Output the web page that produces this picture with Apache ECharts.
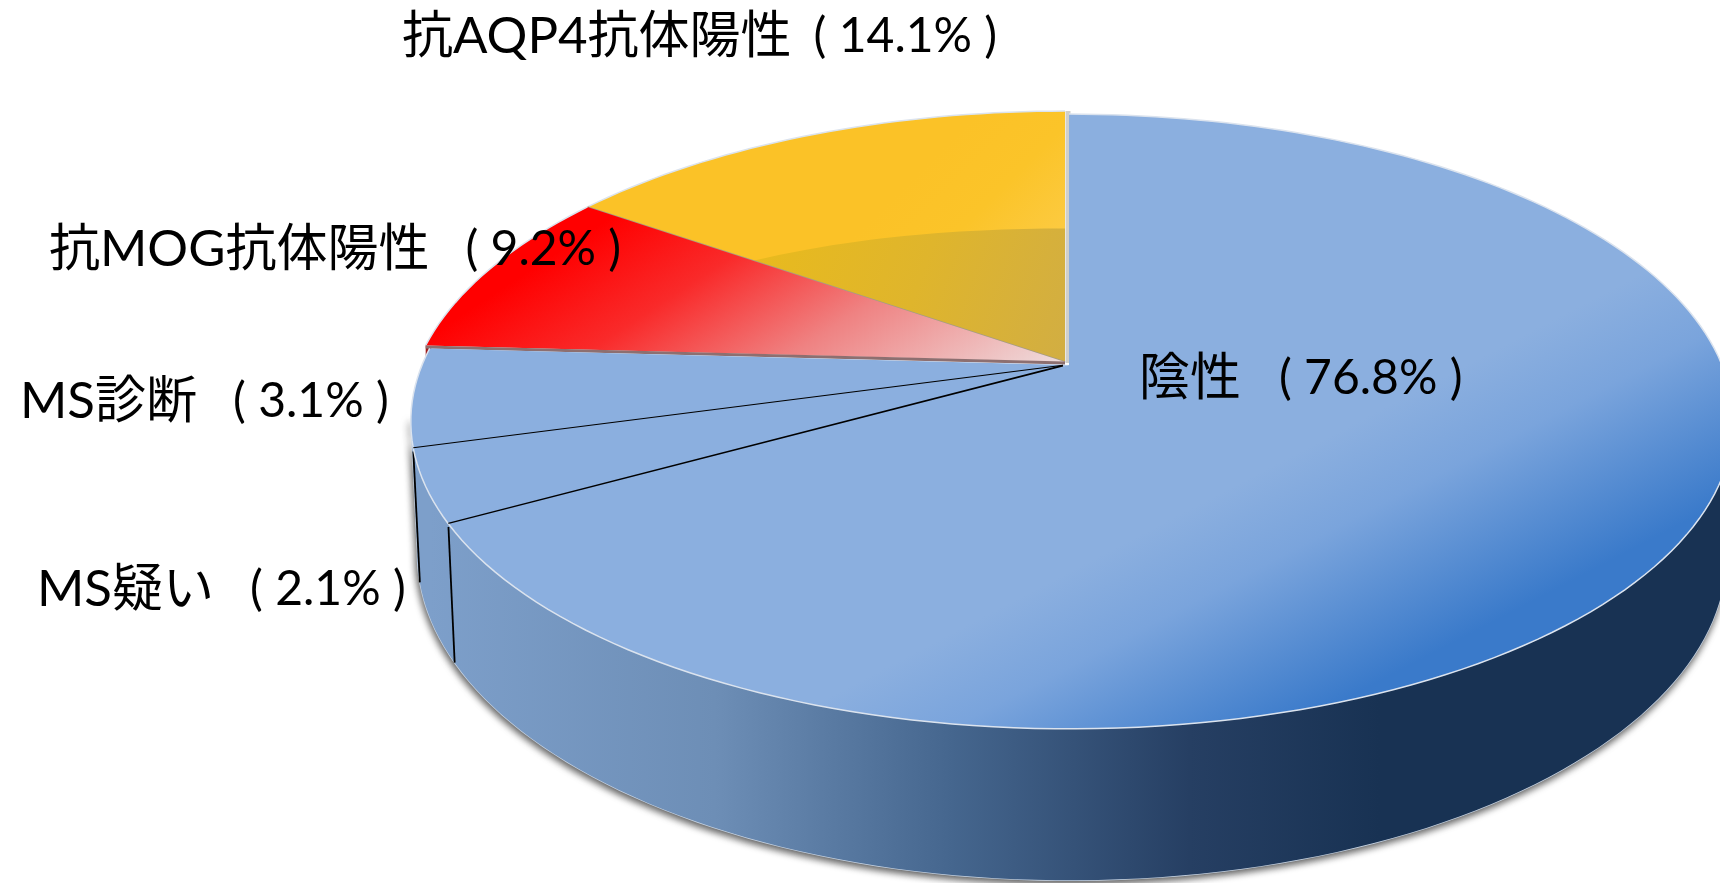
<!DOCTYPE html>
<html>
<head>
<meta charset="utf-8">
<script src="https://cdn.jsdelivr.net/npm/echarts@6/dist/echarts.min.js"></script>
<style>
  html, body { margin: 0; padding: 0; background: #fff; }
  #chart { width: 1720px; height: 883px; }
</style>
</head>
<body>
<div id="chart"></div>
<script>
// slices run counter-clockwise from 12 o'clock
const categories = ["抗AQP4抗体陽性", "抗MOG抗体陽性", "MS診断", "MS疑い", "陰性"];
const labelPercents = ["14.1", "9.2", "3.1", "2.1", "76.8"];
// the drawn wedges do not follow the printed percents, these are read off the picture
const drawnShares = [15.2, 8.9, 5.2, 3.8, 66.9];

const FONT = 'Lato, "Noto Sans CJK JP", sans-serif';
const cx = 1069, cy = 365, persp = 0.1837, radiusY = 297, radiusLeft = 647, radiusRight = 653;
const FRONT_FROM = 100, FRONT_TO = 260;

const rad = (d) => (d * Math.PI) / 180;
const total = drawnShares.reduce((a, b) => a + b, 0);
const startAngles = [];
drawnShares.reduce((acc, s, i) => {
  startAngles[i] = acc;
  return acc + (s / total) * 360;
}, 0);
const endAngle = (i) => startAngles[i] + (drawnShares[i] / total) * 360;

function project(deg, r, off) {
  const u = -r * Math.sin(rad(deg));
  const v = r * Math.cos(rad(deg));
  const den = 1 + persp * v;
  const o = off || [0, 0];
  return [cx + ((u < 0 ? radiusLeft : radiusRight) * u) / den + o[0], cy - (radiusY * v) / den + o[1]];
}
function drop(p) {
  return [cx + (p[0] - cx) * 0.99, p[1] + 134 + 0.062 * (p[1] - 448)];
}
function arc(from, to, r, off) {
  const pts = [];
  const n = Math.max(2, Math.ceil(Math.abs(to - from) / 1.5));
  for (let i = 0; i <= n; i++) pts.push(project(from + ((to - from) * i) / n, r, off));
  return pts;
}

const grad = (x, y, x2, y2, stops) =>
  new echarts.graphic.LinearGradient(x, y, x2, y2, stops.map((c) => ({ offset: c[0], color: c[1] })), true);

const wallFill = () =>
  grad(430, 0, 1380, 0, [[0, "#7d9fca"], [0.3, "#6d8eb6"], [0.55, "#45668e"], [0.8, "#263f63"], [1, "#183253"]]);

const offsets = [[-4, -3], [-4, -3], [0, 0], [0, 0], [0, 0]];
const faceFills = [
  () => grad(960, 130, 1060, 230, [[0, "#fbc227"], [0.5, "#fbc429"], [1, "#fcca40"]]),
  () => grad(858, 56, 1059, 364, [[0, "#ff0000"], [0.27, "#f92a2a"], [0.58, "#ef8282"], [1, "#eedcdc"]]),
  () => "#8bafdf",
  () => "#8bafdf",
  () => grad(1000, 608, 1111, 821, [[0, "#8bafdf"], [0.35, "#7aa4dc"], [1, "#3a7aca"]]),
];

function renderWall(params) {
  const i = params.dataIndex;
  const a = Math.max(startAngles[i], FRONT_FROM);
  const b = Math.min(endAngle(i), FRONT_TO);
  if (b <= a) return { type: "group", children: [] };
  const top = arc(a, b, 1);
  const bottom = top.map(drop).reverse();
  return {
    type: "group",
    children: [{ type: "polygon", shape: { points: top.concat(bottom) }, style: { fill: wallFill(), stroke: null } }],
  };
}

function renderShadow() {
  const top = arc(FRONT_FROM, FRONT_TO + 6, 1);
  const bottom = top.map(drop).reverse();
  return {
    type: "polygon",
    shape: { points: top.concat(bottom) },
    style: { fill: "#5f7ea6", stroke: "#c3d0e0", lineWidth: 1.5, shadowBlur: 7, shadowColor: "rgba(0,0,0,0.65)", shadowOffsetX: -1, shadowOffsetY: 3 },
  };
}

function renderFace(params) {
  const i = params.dataIndex;
  const off = offsets[i];
  const a = startAngles[i], b = endAngle(i);
  const apex = [cx + off[0], cy + off[1]];
  const rim = arc(a, b, 1, off);
  const children = [
    { type: "polygon", shape: { points: [apex].concat(rim) }, style: { fill: faceFills[i](), stroke: null } },
    { type: "polyline", shape: { points: rim }, style: { fill: null, stroke: "#dbe3ee", lineWidth: 1.5 } },
  ];
  if (i === 0) {
    // darker inner band of the yellow wedge
    const inner = [];
    for (let d = 0; d <= 54; d += 2) {
      const t = d / 54;
      inner.push(project(a + (b - a) * t, 0.49 + 0.14 * t * t, off));
    }
    children.push({
      type: "polygon",
      shape: { points: [apex].concat(inner) },
      style: { fill: grad(760, 250, 1060, 360, [[0, "#e8ba1e"], [0.5, "#dfb52c"], [1, "#d2ae42"]]), stroke: null },
    });
    children.push({
      type: "line",
      shape: { x1: apex[0] + 3, y1: apex[1] + 1, x2: rim[0][0] + 3, y2: rim[0][1] },
      style: { stroke: "#cfcfcb", lineWidth: 5 },
    });
    children.push({
      type: "line",
      shape: { x1: apex[0], y1: apex[1], x2: rim[rim.length - 1][0], y2: rim[rim.length - 1][1] },
      style: { stroke: "#a59c84", lineWidth: 1.6 },
    });
  }
  if (i === 1) {
    const corner = rim[rim.length - 1];
    children.push({
      type: "polygon",
      shape: { points: [corner, [corner[0] + 6, corner[1] + 2], [corner[0], corner[1] + 16]] },
      style: { fill: "#9e1c1c", stroke: null },
    });
    children.push({
      type: "line",
      shape: { x1: apex[0], y1: apex[1] + 1, x2: corner[0], y2: corner[1] + 1.5 },
      style: { stroke: "#8d6f70", lineWidth: 3 },
    });
  }
  if (i === 2 || i === 3) {
    const edge = project(b, 1);
    const foot = drop(edge);
    children.push({
      type: "line",
      shape: { x1: cx - 6, y1: cy + 1, x2: edge[0], y2: edge[1] },
      style: { stroke: "#000", lineWidth: 2.4 },
    });
    children.push({
      type: "line",
      shape: { x1: edge[0], y1: edge[1] + 3, x2: foot[0], y2: foot[1] },
      style: { stroke: "#000", lineWidth: 1.8 },
    });
  }
  return { type: "group", children };
}

// left edge and vertical middle of each label
const labelPos = [[402, 37], [49, 250], [20, 402], [37, 590], [1139, 379]];
const labelGap = [22, 36, 36, 36, 38];
const labels = categories.map((c, i) => ({
  type: "text",
  x: labelPos[i][0],
  y: labelPos[i][1],
  z: 100,
  style: {
    text: "{n|" + c + "}{p|( " + labelPercents[i] + "% )}",
    fill: "#000",
    textAlign: "left",
    textVerticalAlign: "middle",
    rich: {
      n: { fontFamily: FONT, fontSize: 51, fill: "#000" },
      p: { fontFamily: FONT, fontSize: 48, fill: "#000", padding: [0, 0, 0, labelGap[i]] },
    },
  },
}));

const chart = echarts.init(document.getElementById("chart"), null, { renderer: "canvas", width: 1720, height: 883 });
const seriesData = categories.map((c, i) => ({ name: c, value: drawnShares[i] }));
chart.setOption({
  animation: false,
  backgroundColor: "#fff",
  graphic: { elements: labels },
  series: [
    { type: "custom", coordinateSystem: "none", data: [0], renderItem: renderShadow, z: 1, silent: true },
    { type: "custom", coordinateSystem: "none", data: seriesData, renderItem: renderWall, z: 2, silent: true },
    { type: "custom", coordinateSystem: "none", data: seriesData.slice(), renderItem: renderFace, z: 3, silent: true },
  ],
});
</script>
</body>
</html>
